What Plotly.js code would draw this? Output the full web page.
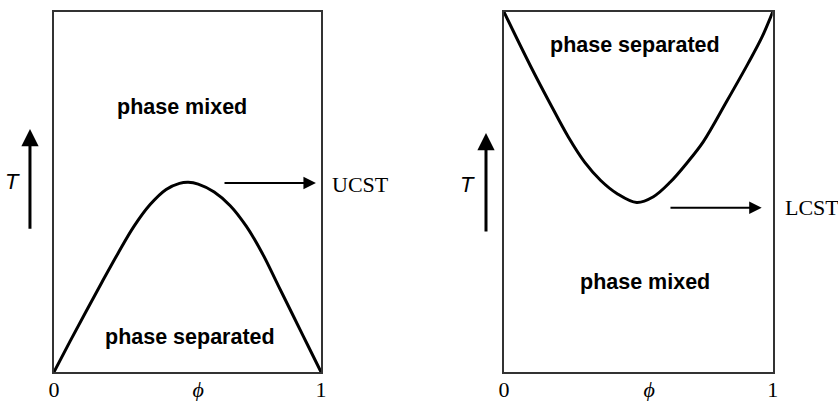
<!DOCTYPE html>
<html>
<head>
<meta charset="utf-8">
<script src="https://cdn.plot.ly/plotly-3.0.1.min.js"></script>
<style>
  html, body { margin: 0; padding: 0; background: #fff; }
  #chart { width: 838px; height: 401px; }
</style>
</head>
<body>
<div id="chart"></div>
<script>
// ---- data ----
const phiUCST = [0, 0.06, 0.12, 0.18, 0.24, 0.3, 0.36, 0.42, 0.47, 0.503, 0.54, 0.6, 0.66, 0.72, 0.78, 0.84, 0.9, 0.95, 1];
const tUCST   = [0, 0.085, 0.168, 0.25, 0.33, 0.405, 0.465, 0.507, 0.524, 0.527, 0.522, 0.5, 0.462, 0.405, 0.33, 0.24, 0.15, 0.075, 0];

const phiLCST = [0, 0.1, 0.17, 0.24, 0.3, 0.36, 0.42, 0.494, 0.556, 0.618, 0.68, 0.742, 0.829, 0.909, 0.96, 1];
const tLCST   = [1, 0.848, 0.748, 0.652, 0.583, 0.532, 0.496, 0.471, 0.487, 0.527, 0.58, 0.64, 0.752, 0.858, 0.93, 1];

const tickVals = [0, 0.54, 1];
const tickText = ['0', '<i>ϕ</i>', '1'];

const regionLabels = ['phase mixed', 'phase separated'];
const criticalLabels = ['UCST', 'LCST'];
const yLabel = '<i>T</i>';

// critical temperature levels (where the horizontal arrows point)
const ucstLevel = 0.525;
const lcstLevel = 0.456;

// ---- traces ----
const curveLine = { color: '#000', width: 3, shape: 'spline', smoothing: 1 };
const traces = [
  { x: phiUCST, y: tUCST, xaxis: 'x', yaxis: 'y', mode: 'lines', line: curveLine, hoverinfo: 'skip' },
  { x: phiLCST, y: tLCST, xaxis: 'x2', yaxis: 'y2', mode: 'lines', line: curveLine, hoverinfo: 'skip' }
];

// ---- layout ----
const W = 838, H = 401;
const yDom = [(H - 372) / H, (H - 12) / H];
const serif = 'Liberation Serif, Times New Roman, serif';
const sans = 'Liberation Sans, Arial, sans-serif';

function xAxis(domain, anchor) {
  return {
    domain: domain, anchor: anchor, range: [0, 1], fixedrange: true,
    showgrid: false, zeroline: false, showline: true, mirror: true,
    linecolor: '#333', linewidth: 2, ticks: '',
    tickmode: 'array', tickvals: tickVals, ticktext: tickText,
    tickfont: { family: serif, size: 22, color: '#000' },
    ticklabelstandoff: -3
  };
}
function yAxis(domain, anchor) {
  return {
    domain: domain, anchor: anchor, range: [0, 1], fixedrange: true,
    showgrid: false, zeroline: false, showline: true, mirror: true,
    linecolor: '#333', linewidth: 2, ticks: '', showticklabels: false
  };
}

const boldFont = { family: sans, size: 21.5, color: '#000', weight: 'bold' };
const critFont = { family: serif, size: 22, color: '#000' };
const tFont = { family: sans, size: 22, color: '#000' };

function txt(xr, yr, x, y, text, font, xanchor) {
  return { xref: xr, yref: yr, x: x, y: y, text: text, font: font, showarrow: false,
           xanchor: xanchor || 'center', yanchor: 'middle' };
}
function arrow(xr, yr, x, y, ax, ay, width, size) {
  return { xref: xr, yref: yr, axref: xr, ayref: yr, x: x, y: y, ax: ax, ay: ay,
           text: '', showarrow: true, arrowhead: 2, arrowwidth: width, arrowsize: size,
           arrowcolor: '#000', standoff: 0, startstandoff: 0 };
}

const annotations = [
  // left panel
  txt('x', 'y', 0.479, 0.736, '<b>' + regionLabels[0] + '</b>', boldFont),
  txt('x', 'y', 0.509, 0.097, '<b>' + regionLabels[1] + '</b>', boldFont),
  arrow('x', 'y', 0.981, ucstLevel, 0.633, ucstLevel, 2, 1.25),
  txt('x domain', 'y domain', 1.034, 0.522, criticalLabels[0], critFont, 'left'),
  arrow('x domain', 'y domain', -0.09, 0.675, -0.09, 0.394, 3, 1.15),
  txt('x domain', 'y domain', -0.157, 0.528, yLabel, tFont),
  // right panel
  txt('x2', 'y2', 0.488, 0.908, '<b>' + regionLabels[1] + '</b>', boldFont),
  txt('x2', 'y2', 0.525, 0.25, '<b>' + regionLabels[0] + '</b>', boldFont),
  arrow('x2', 'y2', 0.959, lcstLevel, 0.614, lcstLevel, 2, 1.25),
  txt('x2 domain', 'y2 domain', 1.037, 0.456, criticalLabels[1], critFont, 'left'),
  arrow('x2 domain', 'y2 domain', -0.067, 0.664, -0.067, 0.386, 3, 1.15),
  txt('x2 domain', 'y2 domain', -0.134, 0.522, yLabel, tFont)
];

const layout = {
  width: W, height: H,
  margin: { l: 0, r: 0, t: 0, b: 0 },
  paper_bgcolor: '#fff', plot_bgcolor: '#fff',
  showlegend: false,
  xaxis: xAxis([54 / W, 321 / W], 'y'),
  yaxis: yAxis(yDom, 'x'),
  xaxis2: xAxis([504 / W, 772.7 / W], 'y2'),
  yaxis2: yAxis(yDom, 'x2'),
  annotations: annotations
};

Plotly.newPlot('chart', traces, layout, { staticPlot: true, displayModeBar: false });
</script>
</body>
</html>
